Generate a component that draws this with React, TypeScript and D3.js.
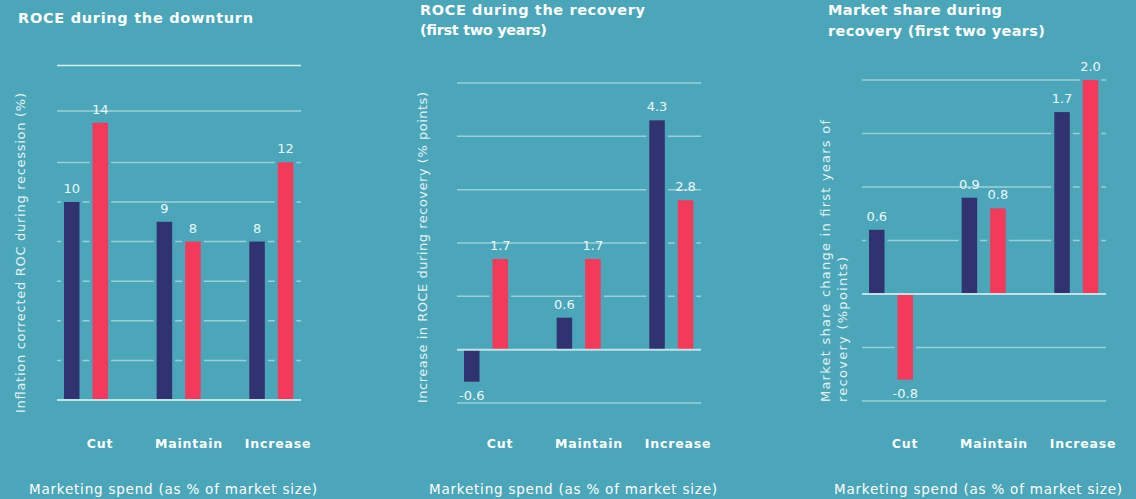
import React from "react";
import * as d3 from "d3";

const categories = ["Cut", "Maintain", "Increase"];
const seriesKeys = ["before", "after"];

const downturnDark = [10, 9, 8];
const downturnRed = [14, 8, 12];
const downturnGrid = [0, 2, 4, 6, 8, 10, 12, 14.6, 16.9];

const recoveryDark = [-0.6, 0.6, 4.3];
const recoveryRed = [1.7, 1.7, 2.8];
const recoveryGrid = [-1, 0, 1, 2, 3, 4, 5];

const shareDark = [0.6, 0.9, 1.7];
const shareRed = [-0.8, 0.8, 2.0];
const shareGrid = [-1, -0.5, 0, 0.5, 1, 1.5, 2];

const downturnLabels = ["10", "9", "8"];
const downturnRedLabels = ["14", "8", "12"];
const recoveryLabels = ["-0.6", "0.6", "4.3"];
const recoveryRedLabels = ["1.7", "1.7", "2.8"];
const shareLabels = ["0.6", "0.9", "1.7"];
const shareRedLabels = ["-0.8", "0.8", "2.0"];

const xTitle = "Marketing spend (as % of market size)";

const BG = "#4aa6b8";
const NAVY = "#30336f";
const RED = "#f43a5a";
const GRID = "#9ccfd9";
const FONT = "'DejaVu Sans', 'Open Sans', sans-serif";

type PanelCfg = {
  x0: number;
  domain: [number, number];
  range: [number, number];
  grid: number[];
  dark: number[];
  red: number[];
  darkLabels: string[];
  redLabels: string[];
  title: string[];
  titleLen: number[];
  titleX: number;
  titleY: number[];
  yLabel: string[];
  yLabelLen: number[];
  yLabelX: number[];
  yLabelBottom: number;
  topLine?: boolean;
};

const panels: PanelCfg[] = [
  {
    x0: 64,
    domain: [0, 17],
    range: [400, 63.4],
    grid: downturnGrid,
    dark: downturnDark,
    red: downturnRed,
    darkLabels: downturnLabels,
    redLabels: downturnRedLabels,
    title: ["ROCE during the downturn"],
    titleLen: [235],
    titleX: 18,
    titleY: [23],
    yLabel: ["Inflation corrected ROC during recession (%)"],
    yLabelLen: [320],
    yLabelX: [25],
    yLabelBottom: 413,
    topLine: true,
  },
  {
    x0: 464,
    domain: [-1, 5],
    range: [403, 83],
    grid: recoveryGrid,
    dark: recoveryDark,
    red: recoveryRed,
    darkLabels: recoveryLabels,
    redLabels: recoveryRedLabels,
    title: ["ROCE during the recovery", "(first two years)"],
    titleLen: [225, 127],
    titleX: 420,
    titleY: [15, 35],
    yLabel: ["Increase in ROCE during recovery (% points)"],
    yLabelLen: [311],
    yLabelX: [427],
    yLabelBottom: 403,
  },
  {
    x0: 869,
    domain: [-1, 2],
    range: [401, 80],
    grid: shareGrid,
    dark: shareDark,
    red: shareRed,
    darkLabels: shareLabels,
    redLabels: shareRedLabels,
    title: ["Market share during", "recovery (first two years)"],
    titleLen: [174, 217],
    titleX: 828,
    titleY: [15, 36],
    yLabel: ["Market share change in first years of", "recovery (%points)"],
    yLabelLen: [282, 145],
    yLabelX: [830, 847],
    yLabelBottom: 402,
  },
];

function Panel({ cfg }: { cfg: PanelCfg }) {
  const x = d3
    .scaleBand<string>()
    .domain(categories)
    .range([cfg.x0, cfg.x0 + 229.3])
    .paddingInner(0.525)
    .paddingOuter(0);
  const xs = d3
    .scaleBand<string>()
    .domain(seriesKeys)
    .range([0, x.bandwidth()])
    .paddingInner(0.456)
    .paddingOuter(0);
  const xl = d3
    .scalePoint<string>()
    .domain(categories)
    .range([cfg.x0 + 36, cfg.x0 + 214]);
  const y = d3.scaleLinear().domain(cfg.domain).range(cfg.range);
  const y0 = y(0);
  const gx0 = cfg.x0 - 7;
  const gx1 = cfg.x0 + 237;
  const bw = xs.bandwidth();
  const pad = 3;

  const bars: { key: string; cat: string; v: number; label: string; color: string }[] = [];
  categories.forEach((c, i) => {
    bars.push({ key: "before", cat: c, v: cfg.dark[i], label: cfg.darkLabels[i], color: NAVY });
    bars.push({ key: "after", cat: c, v: cfg.red[i], label: cfg.redLabels[i], color: RED });
  });

  return (
    <g>
      {cfg.title.map((t, i) => (
        <text
          key={i}
          x={cfg.titleX}
          y={cfg.titleY[i]}
          fill="#ffffff"
          fontSize={14.5}
          fontWeight={700}
          fontFamily={FONT}
          textLength={cfg.titleLen[i]}
          lengthAdjust="spacing"
        >
          {t}
        </text>
      ))}
      {cfg.grid
        .filter((g) => g !== 0)
        .map((g, i) => (
          <line key={i} x1={gx0} x2={gx1} y1={y(g)} y2={y(g)} stroke={cfg.topLine && i === cfg.grid.length - 2 ? "#d8eef2" : GRID} strokeWidth={1.5} />
        ))}
      {bars.map((b, i) => {
        const bx = (x(b.cat) as number) + (xs(b.key) as number);
        const top = Math.min(y(b.v), y0);
        const h = Math.abs(y(b.v) - y0);
        const pos = b.v >= 0;
        return (
          <g key={i}>
            <rect x={bx - pad} y={pos ? top - pad : top} width={bw + 2 * pad} height={h + pad} fill={BG} />
            <rect x={bx} y={top} width={bw} height={h} fill={b.color} />
          </g>
        );
      })}
      <line x1={gx0} x2={gx1} y1={y0} y2={y0} stroke="#c2e2e8" strokeWidth={2} />
      {bars.map((b, i) => {
        const bx = (x(b.cat) as number) + (xs(b.key) as number) + bw / 2;
        const pos = b.v >= 0;
        return (
          <text
            key={i}
            x={bx}
            y={pos ? y(b.v) - 9 : y(b.v) + 18}
            textAnchor="middle"
            fill="#eef8fa"
            fontSize={13}
            fontFamily={FONT}
          >
            {b.label}
          </text>
        );
      })}
      {categories.map((c) => (
        <text
          key={c}
          x={xl(c)}
          y={448}
          textAnchor="middle"
          fill="#ffffff"
          fontSize={12.5}
          fontWeight={700}
          fontFamily={FONT}
          letterSpacing={0.8}
        >
          {c}
        </text>
      ))}
      <text
        x={cfg.x0 + 109}
        y={494}
        textAnchor="middle"
        fill="#ffffff"
        fontSize={13.5}
        fontFamily={FONT}
        textLength={288}
        lengthAdjust="spacing"
      >
        {xTitle}
      </text>
      {cfg.yLabel.map((t, i) => (
        <text
          key={i}
          transform={`translate(${cfg.yLabelX[i]},${cfg.yLabelBottom}) rotate(-90)`}
          fill="#e4f3f6"
          fontSize={13}
          fontFamily={FONT}
          textLength={cfg.yLabelLen[i]}
          lengthAdjust="spacing"
        >
          {t}
        </text>
      ))}
    </g>
  );
}

export default function App() {
  return (
    <svg width={1136} height={499} style={{ position: "absolute", left: 0, top: 0, display: "block" }}>
      <rect x={0} y={0} width={1136} height={499} fill={BG} />
      {panels.map((p, i) => (
        <Panel key={i} cfg={p} />
      ))}
    </svg>
  );
}
